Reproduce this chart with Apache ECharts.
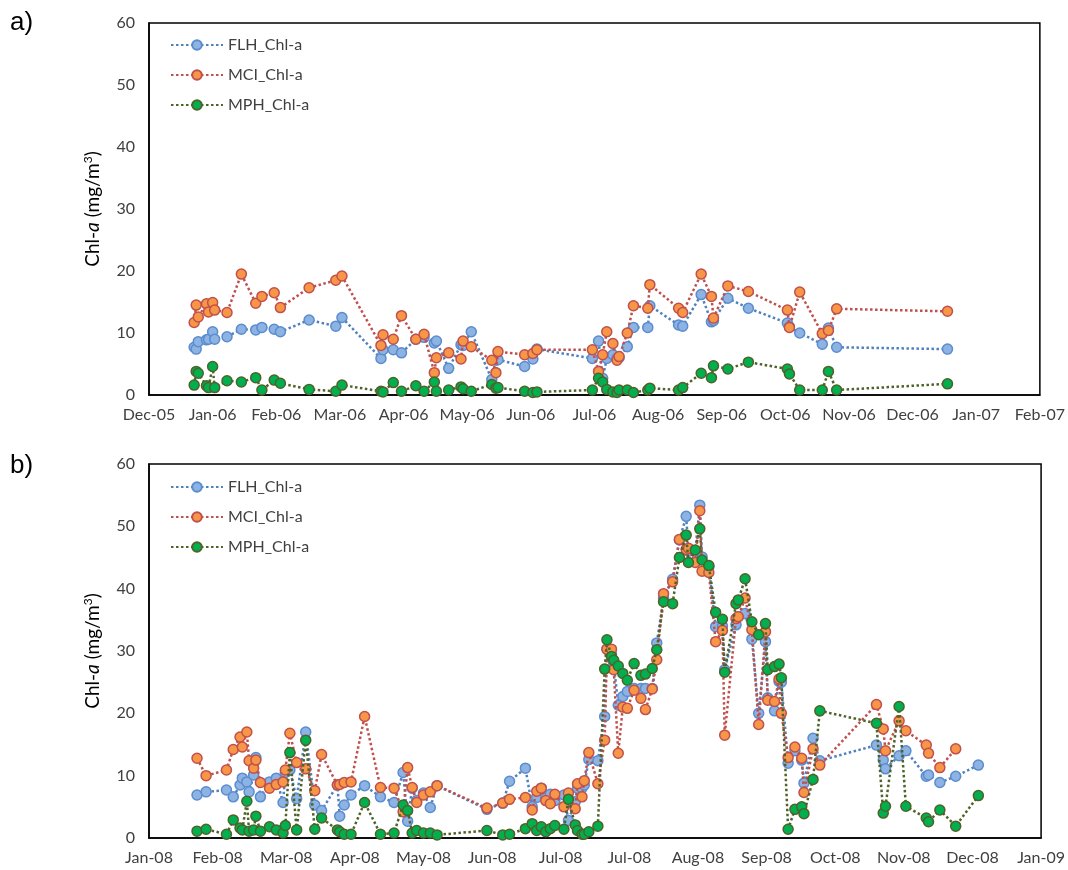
<!DOCTYPE html>
<html><head><meta charset="utf-8">
<script src="https://cdn.jsdelivr.net/npm/echarts@6/dist/echarts.min.js"></script>
<style>html,body{margin:0;padding:0;background:#fff}#c{width:1068px;height:870px}</style>
</head><body><div id="c"></div>
<script>
const seriesNames = ['FLH_Chl-a', 'MCI_Chl-a', 'MPH_Chl-a'];

// Panel a) 2006
const datesA = ['2005-12-23','2005-12-24','2005-12-25','2005-12-29','2005-12-30','2006-01-01','2006-01-02','2006-01-08','2006-01-15','2006-01-22','2006-01-25','2006-01-31','2006-02-03','2006-02-17','2006-03-02','2006-03-05','2006-03-24','2006-03-25','2006-03-30','2006-04-03','2006-04-10','2006-04-14','2006-04-19','2006-04-20','2006-04-26','2006-05-02','2006-05-03','2006-05-07','2006-05-17','2006-05-19','2006-05-20','2006-06-02','2006-06-06','2006-06-08','2006-07-05','2006-07-08','2006-07-10','2006-07-12','2006-07-15','2006-07-17','2006-07-18','2006-07-22','2006-07-25','2006-08-01','2006-08-02','2006-08-16','2006-08-18','2006-08-27','2006-09-01','2006-09-02','2006-09-09','2006-09-19','2006-10-08','2006-10-09','2006-10-14','2006-10-25','2006-10-28','2006-11-01','2006-12-25'];
const flhA = [7.7,7.4,8.6,8.9,9.0,10.2,9.0,9.4,10.6,10.5,10.9,10.6,10.2,12.1,11.1,12.5,5.9,7.3,7.3,6.8,9.0,9.3,8.4,8.7,4.3,8.1,8.0,10.2,2.5,5.6,5.7,4.6,5.8,7.4,5.9,8.7,2.7,5.9,6.5,5.9,6.0,7.8,10.9,10.9,14.4,11.3,11.1,16.2,11.8,12.0,15.6,14.0,11.6,11.0,10.0,8.2,10.8,7.7,7.4];
const mciA = [11.7,14.5,12.6,14.7,13.4,14.9,13.7,13.3,19.5,14.8,15.9,16.5,14.1,17.3,18.5,19.2,8.0,9.7,9.0,12.8,9.0,9.8,3.6,6.0,6.8,5.8,8.7,7.8,5.6,3.6,7.0,6.5,6.7,7.3,7.3,3.8,6.5,10.2,8.3,5.6,6.2,10.0,14.4,14.0,17.8,14.0,13.3,19.5,15.9,12.4,17.6,16.7,13.7,10.9,16.6,9.9,10.4,13.9,13.5];
const mphA = [1.6,3.8,3.5,1.5,1.2,4.6,1.2,2.3,2.1,2.8,0.8,2.4,1.9,0.9,0.6,1.6,0.6,0.5,2.0,0.6,1.5,0.6,2.1,0.6,0.8,1.3,1.0,0.6,1.7,1.1,1.2,0.6,0.4,0.5,0.8,2.7,2.1,0.9,0.5,0.4,0.8,0.8,0.4,0.8,1.1,0.8,1.2,3.5,2.8,4.7,4.2,5.3,4.2,3.4,0.8,0.8,3.8,0.8,1.8];

// Panel b) 2008
const datesB = ['2008-01-23','2008-01-27','2008-02-05','2008-02-08','2008-02-11','2008-02-12','2008-02-14','2008-02-15','2008-02-17','2008-02-18','2008-02-20','2008-02-24','2008-02-27','2008-03-01','2008-03-02','2008-03-04','2008-03-07','2008-03-11','2008-03-15','2008-03-18','2008-03-25','2008-03-26','2008-03-28','2008-03-31','2008-04-06','2008-04-13','2008-04-19','2008-04-23','2008-04-25','2008-04-27','2008-04-29','2008-05-02','2008-05-05','2008-05-08','2008-05-30','2008-06-06','2008-06-09','2008-06-16','2008-06-19','2008-06-21','2008-06-23','2008-06-25','2008-06-27','2008-06-29','2008-07-03','2008-07-05','2008-07-08','2008-07-09','2008-07-11','2008-07-12','2008-07-14','2008-07-18','2008-07-21','2008-07-22','2008-07-24','2008-07-25','2008-07-27','2008-07-29','2008-07-31','2008-08-03','2008-08-06','2008-08-08','2008-08-11','2008-08-13','2008-08-16','2008-08-20','2008-08-23','2008-08-26','2008-08-27','2008-08-30','2008-09-01','2008-09-02','2008-09-05','2008-09-08','2008-09-11','2008-09-12','2008-09-17','2008-09-18','2008-09-21','2008-09-24','2008-09-27','2008-09-30','2008-10-01','2008-10-04','2008-10-06','2008-10-07','2008-10-10','2008-10-13','2008-10-16','2008-10-17','2008-10-21','2008-10-24','2008-11-18','2008-11-21','2008-11-22','2008-11-28','2008-12-01','2008-12-10','2008-12-11','2008-12-16','2008-12-23','2009-01-02'];
const flhB = [6.9,7.4,7.7,6.6,8.5,9.6,9.0,7.4,10.1,12.9,6.6,9.0,9.6,5.7,10.5,10.9,6.3,17.0,5.3,4.4,8.5,3.5,5.3,6.9,8.4,6.6,5.7,10.5,2.7,8.0,6.0,7.2,4.9,8.4,4.6,5.6,9.1,11.2,5.0,6.5,8.0,6.5,7.0,6.0,6.9,2.8,5.8,8.0,8.0,8.5,12.6,12.4,19.5,30.3,29.5,28.0,21.3,22.7,23.5,24.0,24.0,24.0,24.0,31.3,38.5,41.5,47.8,51.6,46.0,46.0,53.4,45.1,43.5,33.9,34.0,27.0,34.2,35.5,36.0,31.9,20.0,31.5,22.5,20.4,25.1,25.0,12.0,14.0,12.5,8.8,16.0,12.4,14.9,12.5,11.1,13.2,14.0,9.9,10.1,8.9,9.9,11.7];
const mciB = [12.8,10.0,10.9,14.2,16.2,14.6,17.0,12.4,11.2,12.5,8.9,8.0,8.6,9.0,10.9,16.8,12.1,11.1,7.6,13.4,8.5,8.6,8.9,9.0,19.5,8.1,8.0,4.2,11.3,8.1,5.7,6.9,7.4,8.4,4.8,5.6,6.2,6.5,4.5,7.5,8.0,6.0,5.5,7.0,5.0,7.2,4.7,8.7,6.6,9.2,13.7,8.7,15.7,30.3,30.3,27.0,13.6,21.0,20.8,23.7,22.4,20.6,23.9,28.6,39.2,41.1,47.9,46.3,46.5,44.2,52.5,42.8,42.6,31.5,33.3,16.5,35.2,35.5,38.5,33.4,18.2,33.1,22.1,21.9,25.5,20.0,12.9,14.6,12.8,7.3,14.3,11.7,21.4,17.5,14.0,18.8,17.2,14.9,13.6,11.3,14.3,null];
const mphB = [1.1,1.4,0.6,2.9,1.6,1.3,5.9,1.1,1.3,3.5,1.1,1.8,1.3,0.8,2.0,13.7,1.3,15.7,1.4,3.2,1.3,1.0,0.6,0.6,5.7,0.6,0.8,5.3,4.4,0.8,1.2,0.8,0.8,0.5,1.2,0.5,0.6,1.5,2.3,1.2,1.8,1.0,1.5,2.0,1.4,6.2,2.1,1.2,0.6,0.6,1.0,1.9,27.1,31.8,29.1,28.5,27.6,26.4,25.3,28.0,26.1,26.3,27.2,30.2,37.9,37.6,45.0,48.6,44.2,46.2,49.6,44.6,43.7,36.2,35.1,26.6,37.6,38.2,41.6,34.7,32.6,34.4,27.0,27.5,27.9,25.7,1.4,4.6,5.0,3.9,9.4,20.4,18.4,4.0,5.1,21.1,5.1,3.2,2.6,4.5,1.9,6.8];

const yMin = 0, yMax = 60, yStep = 10;
const DAY = 86400000;
const startA = Date.UTC(2005, 11, 1),            unitA = 31,   ticksA = 14;
const startB = Date.UTC(2008, 0, 1) + 0.8 * DAY, unitB = 30.3, ticksB = 13;
const MON = ['Jan','Feb','Mar','Apr','May','Jun','Jul','Aug','Sep','Oct','Nov','Dec'];

function toX(s, start, unit) {
  const p = s.split('-').map(Number);
  return (Date.UTC(p[0], p[1] - 1, p[2]) - start) / (unit * DAY);
}
function fmt(v, start, unit) {
  const d = new Date(start + v * unit * DAY);
  return MON[d.getUTCMonth()] + '-' + String(d.getUTCFullYear() % 100).padStart(2, '0');
}
function pts(dates, vals, start, unit) {
  const out = [];
  dates.forEach((d, i) => { if (vals[i] != null) out.push([toX(d, start, unit), vals[i]]); });
  return out;
}

const FONT = 'Lato';
const styles = [
  { line: '#4F81BD', fill: '#8DB3E2', border: '#5B8CD0' },
  { line: '#C0504D', fill: '#F79646', border: '#C0504D' },
  { line: '#4F6228', fill: '#00B050', border: '#4F6228' }
];

function mkSeries(idx, dates, vals, start, unit) {
  return vals.map((v, k) => ({
    name: seriesNames[k], type: 'line', xAxisIndex: idx, yAxisIndex: idx,
    data: pts(dates, v, start, unit),
    symbol: 'circle', symbolSize: 10, showSymbol: true,
    z: 2 + k,
    itemStyle: { color: styles[k].fill, borderColor: styles[k].border, borderWidth: 1.5 },
    lineStyle: { color: styles[k].line, width: 2.5, type: [2.5, 2.5] },
    emphasis: { disabled: true }, animation: false
  }));
}

const yName = {
  rich: {
    n: { fontSize: 19, fontFamily: FONT, color: '#000' },
    i: { fontSize: 19, fontFamily: FONT, fontStyle: 'italic', color: '#000' },
    s: { fontSize: 12, fontFamily: FONT, color: '#000', padding: [0, 0, 9, 0] }
  }
};
const yNameText = '{n|Chl-}{i|a}{n| (mg/m}{s|3}{n|)}';

function mkX(idx, start, unit, n) {
  return {
    type: 'value', gridIndex: idx, min: 0, max: n, interval: 1,
    axisLine: { show: true, lineStyle: { color: '#000', width: 1.5 } },
    axisTick: { show: false }, splitLine: { show: false },
    axisLabel: { formatter: v => fmt(v, start, unit), color: '#404040', fontSize: 16, fontFamily: FONT, margin: 12, showMaxLabel: true, showMinLabel: true, hideOverlap: false }
  };
}
function mkY(idx) {
  return {
    type: 'value', gridIndex: idx, min: yMin, max: yMax, interval: yStep,
    axisLine: { show: true, lineStyle: { color: '#000', width: 1.5 } },
    axisTick: { show: false }, splitLine: { show: false },
    axisLabel: { color: '#404040', fontSize: 16, fontFamily: FONT, margin: 14 },
    name: yNameText, nameLocation: 'middle', nameRotate: 90, nameGap: 46,
    nameTextStyle: yName
  };
}
function mkLegend(top) {
  return {
    orient: 'vertical', left: 170, top: top, padding: 0,
    itemWidth: 52, itemHeight: 12, itemGap: 10,
    data: seriesNames,
    textStyle: { fontSize: 16, fontFamily: FONT, color: '#404040', lineHeight: 20 }
  };
}

const chart = echarts.init(document.getElementById('c'), null, { renderer: 'canvas' });
chart.setOption({
  animation: false,
  backgroundColor: '#fff',
  grid: [
    { left: 149, top: 23, width: 896, height: 372, show: true, borderColor: '#000', borderWidth: 1.5, backgroundColor: 'transparent' },
    { left: 149, top: 464, width: 895, height: 374, show: true, borderColor: '#000', borderWidth: 1.5, backgroundColor: 'transparent' }
  ],
  xAxis: [mkX(0, startA, unitA, ticksA), mkX(1, startB, unitB, ticksB)],
  yAxis: [mkY(0), mkY(1)],
  legend: [mkLegend(35), mkLegend(477)],
  graphic: [
    { type: 'text', left: 10, top: 10, style: { text: 'a)', fontSize: 26, fontFamily: 'Liberation Sans', fill: '#000' } },
    { type: 'text', left: 10, top: 453, style: { text: 'b)', fontSize: 26, fontFamily: 'Liberation Sans', fill: '#000' } }
  ],
  series: [
    ...mkSeries(0, datesA, [flhA, mciA, mphA], startA, unitA),
    ...mkSeries(1, datesB, [flhB, mciB, mphB], startB, unitB)
  ]
});
</script></body></html>
